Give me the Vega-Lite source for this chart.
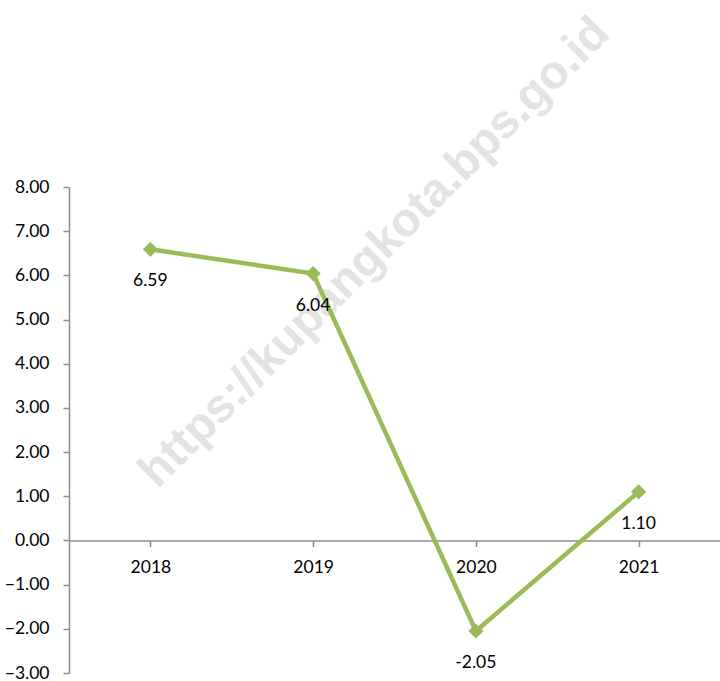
{
  "$schema": "https://vega.github.io/schema/vega-lite/v6.json",
  "width": 651,
  "height": 486,
  "autosize": {"type": "none"},
  "padding": {"left": 69, "top": 187, "right": 0, "bottom": 8},
  "background": "white",
  "config": {
    "view": {"stroke": null},
    "font": "Lato",
    "text": {"font": "Lato"}
  },
  "data": {
    "values": [
      {"year": "2018", "value": 6.59, "label": "6.59"},
      {"year": "2019", "value": 6.04, "label": "6.04"},
      {"year": "2020", "value": -2.05, "label": "-2.05"},
      {"year": "2021", "value": 1.10, "label": "1.10"}
    ]
  },
  "encoding": {
    "x": {
      "field": "year",
      "type": "ordinal",
      "scale": {"paddingInner": 0, "paddingOuter": 0},
      "axis": {
        "title": null,
        "labelAngle": 0,
        "labelFont": "Lato",
        "labelFontSize": 17.5,
        "labelColor": "#000000",
        "labelPadding": 12,
        "domainColor": "#8c8c8c",
        "domainWidth": 1.5,
        "tickColor": "#8c8c8c",
        "tickWidth": 1.5,
        "tickSize": 6,
        "bandPosition": 0,
        "offset": -132.5
      }
    },
    "y": {
      "field": "value",
      "type": "quantitative",
      "scale": {"domain": [-3, 8], "nice": false, "zero": false},
      "axis": {
        "title": null,
        "values": [-3, -2, -1, 0, 1, 2, 3, 4, 5, 6, 7, 8],
        "format": ".2f",
        "grid": false,
        "labelFont": "Lato",
        "labelFontSize": 17.5,
        "labelColor": "#000000",
        "labelPadding": 14,
        "domainColor": "#8c8c8c",
        "domainWidth": 1.5,
        "tickColor": "#8c8c8c",
        "tickWidth": 1.5,
        "tickSize": 6
      }
    }
  },
  "layer": [
    {
      "data": {"values": [{"wm": "https://kupangkota.bps.go.id", "year": "2019", "value": 6.5}]},
      "mark": {
        "type": "text",
        "angle": -45,
        "font": "Liberation Sans",
        "fontWeight": "bold",
        "fontSize": 47,
        "color": "#e3e3e3",
        "align": "center",
        "baseline": "middle",
        "dx": 44,
        "dy": 43
      },
      "encoding": {"text": {"field": "wm"}}
    },
    {
      "mark": {"type": "line", "color": "#9bbb59", "strokeWidth": 4.5},
      "encoding": {}
    },
    {
      "mark": {"type": "point", "shape": "diamond", "filled": true, "color": "#9bbb59", "size": 230, "opacity": 1},
      "encoding": {}
    },
    {
      "mark": {"type": "text", "font": "Lato", "fontSize": 17.5, "color": "#000000", "dy": 32, "baseline": "middle", "align": "center"},
      "encoding": {"text": {"field": "label"}}
    }
  ]
}
